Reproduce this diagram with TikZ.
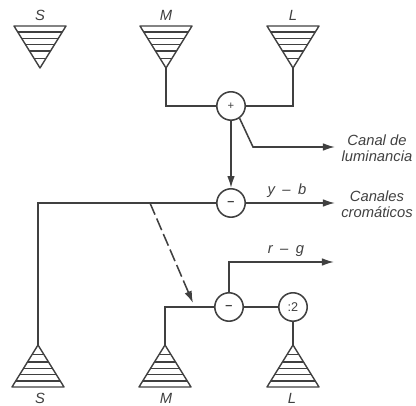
\documentclass[tikz,border=0pt]{standalone}
\usepackage{fontspec}
\setmainfont{Liberation Sans}
\usetikzlibrary{calc}
\usetikzlibrary{arrows.meta}

\tikzset{
  pics/cone/.style={code={
    \draw[conepart] (0,0) -- (-26,-42) -- (26,-42) -- cycle;
    \foreach \h in {9.5,17,23.5,29.5,36}
      \draw[conepart] (-26*\h/42,-\h) -- (26*\h/42,-\h);
  }}
}

\begin{document}
\begin{tikzpicture}[x=.025cm,y=-.025cm]
    \tikzstyle{conepart}=[draw,line width = 1pt,black!75,line join=round]
    \tikzstyle{edge}=[draw,line width = 1.1pt,-,black!75]
    \tikzstyle{signal}=[edge,-{Latex[length=3mm,width=1.9mm]}]
    \tikzstyle{junction}=[draw,circle,line width = 1.1pt,black!75,fill=white,minimum size=.71cm,inner sep=0pt,font=\small]
    \tikzstyle{lab}=[font=\itshape\fontsize{10.5}{11.4}\selectfont,text=black!75,inner sep=0pt]
    \useasboundingbox (0,0) rectangle (416,406);
    % cones on top
    \pic at (40,68) {cone};
    \pic at (166,68) {cone};
    \pic at (293,68) {cone};
    % cones at the bottom
    \pic[yscale=-1] at (38,345) {cone};
    \pic[yscale=-1] at (165,345) {cone};
    \pic[yscale=-1] at (293,345) {cone};
    \coordinate (mtop) at (166,68);
    \coordinate (ltop) at (293,68);
    \coordinate (sbot) at (38,345);
    \coordinate (mbot) at (165,345);
    \coordinate (lbot) at (293,345);
    \coordinate (bend) at (253,147);
    \coordinate (lumaend) at (335,147);
    \coordinate (ybend) at (335,203);
    \coordinate (rgbend) at (229,262);
    \coordinate (rgend) at (334,262);
    \coordinate (dashfrom) at (150,203);
    \coordinate (dashto) at (193,303);
    \node[junction] (sum) at (231,106) {\footnotesize +};
    \node[junction] (yb) at (231,203) {\bfseries --};
    \node[junction] (rg) at (229,307) {\bfseries --};
    \node[junction] (half) at (293,307) {:2};
    \draw[edge] (mtop) |- (sum);
    \draw[edge] (ltop) |- (sum);
    \draw[signal] (sum) -- (yb);
    \draw[signal] (sum.-55) -- (bend) -- (lumaend);
    \draw[edge] (sbot) |- (yb);
    \draw[signal] (yb) -- (ybend);
    \draw[signal,dash pattern=on 9pt off 3pt] (dashfrom) -- (dashto);
    \draw[edge] (mbot) |- (rg);
    \draw[edge] (rg) -- (half);
    \draw[edge] (lbot) -- (half);
    \draw[signal] (rg) -- (rgbend) -- (rgend);
    \node[lab] (stoplab) at (40,15) {S};
    \node[lab] (mtoplab) at (166,15) {M};
    \node[lab] (ltoplab) at (293,15) {L};
    \node[lab] (sbotlab) at (40,398) {S};
    \node[lab] (mbotlab) at (166,398) {M};
    \node[lab] (lbotlab) at (292,398) {L};
    \node[lab,align=center] (luma) at (377,148) {Canal de\\luminancia};
    \node[lab,align=center] (chroma) at (377,204) {Canales\\cromáticos};
    \node[lab] (yblab) at (287,191) {y\enspace--\enspace b};
    \node[lab] (rglab) at (286,251) {r\enspace--\enspace g};
\end{tikzpicture}
\end{document}
